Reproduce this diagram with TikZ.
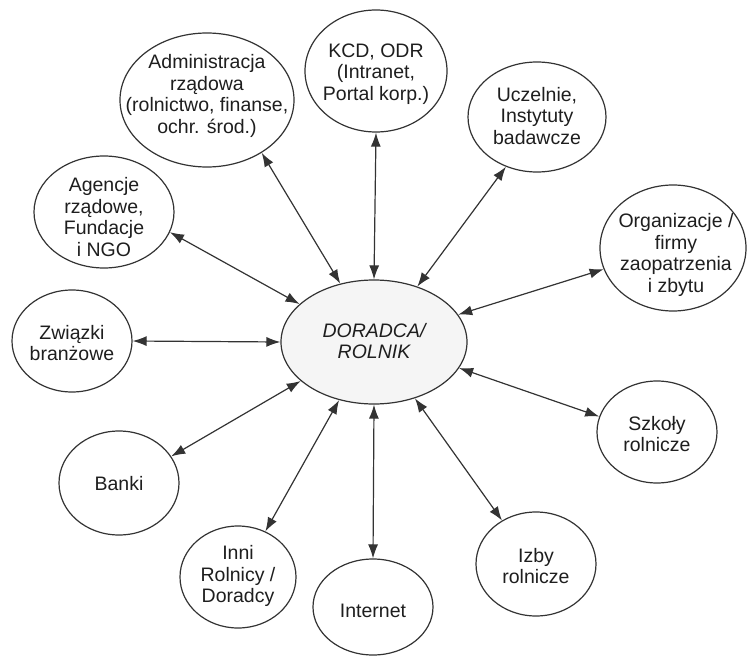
\documentclass[tikz,border=0pt]{standalone}
\usepackage{fontspec}
\setmainfont{Liberation Sans}
\usetikzlibrary{arrows.meta,shapes.geometric}
\definecolor{linec}{HTML}{333333}
\definecolor{textc}{HTML}{1E1E1E}
\begin{document}
\begin{tikzpicture}[x=1pt,y=-1pt,
  ell/.style={draw=linec, line width=1.2pt, ellipse, inner sep=0pt, fill=white},
  lbl/.style={font=\fontsize{19.5}{21.7}\selectfont, text=textc, align=center, inner sep=0pt},
  link/.style={draw=linec, line width=1.2pt, {Latex[length=14pt,width=10pt]}-{Latex[length=14pt,width=10pt]}}]
\useasboundingbox (0,0) rectangle (749,658);
% ellipses
\node[ell, fill=black!4, minimum width=186pt, minimum height=124pt] (C) at (374,342) {};
\node[ell, minimum width=174pt, minimum height=134pt] (A) at (207,100) {};
\node[ell, minimum width=142pt, minimum height=122pt] (K) at (376,71) {};
\node[ell, minimum width=138pt, minimum height=110pt] (U) at (537,117) {};
\node[ell, minimum width=146pt, minimum height=126pt] (O) at (673,248) {};
\node[ell, minimum width=140pt, minimum height=112pt] (G) at (104,212) {};
\node[ell, minimum width=120pt, minimum height=102pt] (Z) at (72,341) {};
\node[ell, minimum width=120pt, minimum height=104pt] (B) at (119,483) {};
\node[ell, minimum width=116pt, minimum height=102pt] (I) at (238,577) {};
\node[ell, minimum width=120pt, minimum height=96pt] (N) at (373,607) {};
\node[ell, minimum width=120pt, minimum height=104pt] (Y) at (536,564) {};
\node[ell, minimum width=120pt, minimum height=102pt] (S) at (657,432) {};
% texts
\node[lbl, font=\fontsize{19.5}{21.7}\selectfont\itshape] (Ct) at (374,341) {DORADCA/\\ROLNIK};
\node[lbl] (At) at (207,96) {Administracja\\rządowa\\(rolnictwo, finanse,\\ochr. środ.)};
\node[lbl] (Kt) at (376,74) {KCD, ODR\\(Intranet,\\Portal korp.)};
\node[lbl] (Ut) at (537,116) {Uczelnie,\\Instytuty\\badawcze};
\node[lbl] (Ot) at (676,255) {Organizacje /\\firmy\\zaopatrzenia\\i zbytu};
\node[lbl] (Gt) at (104,217) {Agencje\\rządowe,\\Fundacje\\i NGO};
\node[lbl] (Zt) at (72,343) {Związki\\branżowe};
\node[lbl] (Bt) at (119,484) {Banki};
\node[lbl] (It) at (238,576) {Inni\\Rolnicy /\\Doradcy};
\node[lbl] (Nt) at (373,611) {Internet};
\node[lbl] (Yt) at (536,566) {Izby\\rolnicze};
\node[lbl] (St) at (657,434) {Szkoły\\rolnicze};
% connectors
\draw[link] (A.-44) -- (C.120);
\draw[link] (K.south) -- (C.north);
\draw[link] (U.-122) -- (C.52);
\draw[link] (O.197) -- (C.18);
\draw[link] (G.-17) -- (C.153);
\draw[link] (Z.east) -- (C.west);
\draw[link] (B.27) -- (C.208);
\draw[link] (I.59) -- (C.239);
\draw[link] (N.north) -- (C.south);
\draw[link] (Y.128) -- (C.-54);
\draw[link] (S.165) -- (C.-17);
\end{tikzpicture}
\end{document}
